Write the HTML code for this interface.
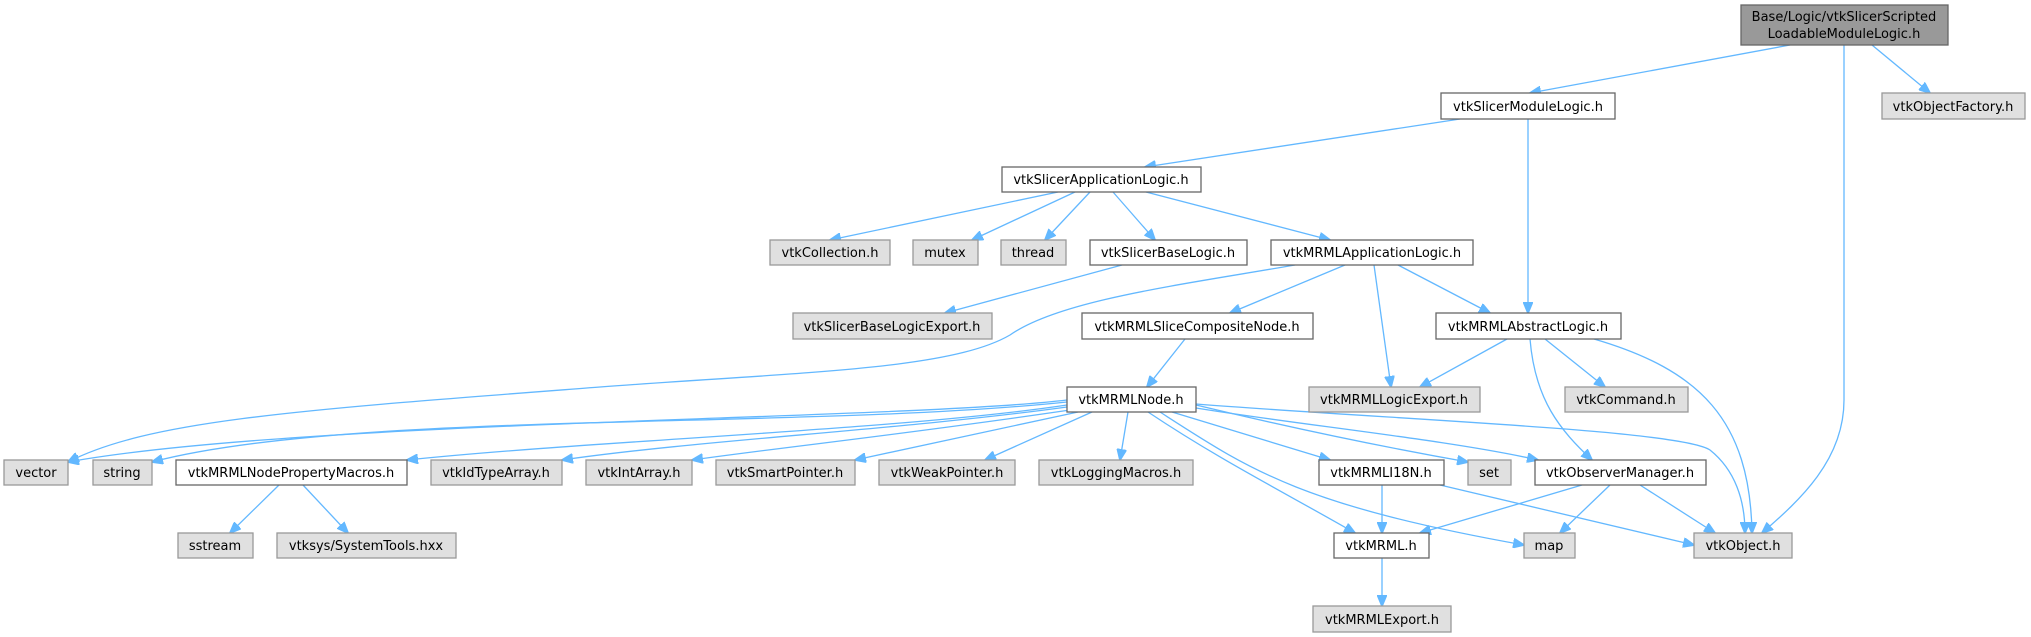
<!DOCTYPE html>
<html><head><meta charset="utf-8"><style>
html,body{margin:0;padding:0;background:#fff;}
svg{display:block;}
text{font-family:"DejaVu Sans","Liberation Sans",sans-serif;font-size:13px;fill:#000;}
.w{fill:#fff;stroke:#666;stroke-width:1.3;}
.g{fill:#e0e0e0;stroke:#999;stroke-width:1.3;}
.r{fill:#999;stroke:#666;stroke-width:1.3;}
.e{fill:none;stroke:#63b8ff;stroke-width:1.3;}
</style></head><body>
<svg width="2031" height="637" viewBox="0 0 2031 637" xmlns="http://www.w3.org/2000/svg">
<defs><marker id="a" markerWidth="12" markerHeight="10" refX="11" refY="5" orient="auto" markerUnits="userSpaceOnUse"><path d="M0,0 L12,5 L0,10 z" fill="#63b8ff" stroke="#63b8ff"/></marker></defs>
<g marker-end="url(#a)">
<path class="e" d="M1790,45 L1530,93"/>
<path class="e" d="M1844,45 L1844,400 C1844,460 1800,500 1762,533"/>
<path class="e" d="M1872,45 L1930,93"/>
<path class="e" d="M1460,119 L1145,167"/>
<path class="e" d="M1528,119 L1528,313"/>
<path class="e" d="M1058,192 L830,240"/>
<path class="e" d="M1075,192 L972,240"/>
<path class="e" d="M1090,192 L1045,240"/>
<path class="e" d="M1113,192 L1155,240"/>
<path class="e" d="M1146,192 L1330,240"/>
<path class="e" d="M1122,265 L945,313"/>
<path class="e" d="M1295,265 C1180,285 1060,300 1010,335 C950,370 800,372 600,387 C300,410 150,420 68,462"/>
<path class="e" d="M1345,265 L1230,313"/>
<path class="e" d="M1374,265 L1391,387"/>
<path class="e" d="M1398,265 L1490,313"/>
<path class="e" d="M1185,339 L1147,387"/>
<path class="e" d="M1507,339 L1420,387"/>
<path class="e" d="M1545,339 L1605,387"/>
<path class="e" d="M1530,339 C1535,400 1560,430 1592,460"/>
<path class="e" d="M1594,339 C1700,370 1750,420 1752,533"/>
<path class="e" d="M1067,400 C900,420 300,420 68,462"/>
<path class="e" d="M1067,402 C800,430 350,410 152,462"/>
<path class="e" d="M1067,405 C900,430 600,440 407,460"/>
<path class="e" d="M1067,407 C900,430 700,440 562,460"/>
<path class="e" d="M1070,410 C900,435 800,445 692,460"/>
<path class="e" d="M1078,412 L855,460"/>
<path class="e" d="M1092,412 L985,460"/>
<path class="e" d="M1128,412 L1120,460"/>
<path class="e" d="M1172,412 L1330,460"/>
<path class="e" d="M1196,405 C1300,430 1400,450 1468,462"/>
<path class="e" d="M1196,408 C1300,425 1450,440 1538,460"/>
<path class="e" d="M1196,404 C1400,420 1680,430 1710,450 C1735,470 1745,500 1745,533"/>
<path class="e" d="M1148,412 C1220,460 1280,490 1355,533"/>
<path class="e" d="M1160,412 C1250,470 1300,505 1524,545"/>
<path class="e" d="M279,485 L230,533"/>
<path class="e" d="M303,485 L348,533"/>
<path class="e" d="M1382,485 L1382,533"/>
<path class="e" d="M1440,485 L1694,545"/>
<path class="e" d="M1582,485 L1420,533"/>
<path class="e" d="M1610,485 L1560,533"/>
<path class="e" d="M1640,485 L1715,533"/>
<path class="e" d="M1382,558 L1382,606"/>
</g>
<rect class="r" x="1741" y="5" width="207" height="40"/>
<text x="1844" y="21" text-anchor="middle">Base/Logic/vtkSlicerScripted</text>
<text x="1844" y="38" text-anchor="middle">LoadableModuleLogic.h</text>
<g text-anchor="middle">
<rect class="w" x="1441" y="93" width="174" height="26"/><text x="1528" y="111">vtkSlicerModuleLogic.h</text>
<rect class="g" x="1882" y="93" width="143" height="26"/><text x="1953" y="111">vtkObjectFactory.h</text>
<rect class="w" x="1002" y="167" width="199" height="25"/><text x="1101" y="184">vtkSlicerApplicationLogic.h</text>
<rect class="g" x="770" y="240" width="120" height="25"/><text x="830" y="257">vtkCollection.h</text>
<rect class="g" x="913" y="240" width="65" height="25"/><text x="945" y="257">mutex</text>
<rect class="g" x="1001" y="240" width="65" height="25"/><text x="1033" y="257">thread</text>
<rect class="w" x="1090" y="240" width="157" height="25"/><text x="1168" y="257">vtkSlicerBaseLogic.h</text>
<rect class="w" x="1271" y="240" width="202" height="25"/><text x="1372" y="257">vtkMRMLApplicationLogic.h</text>
<rect class="g" x="793" y="313" width="199" height="26"/><text x="892" y="331">vtkSlicerBaseLogicExport.h</text>
<rect class="w" x="1082" y="313" width="231" height="26"/><text x="1197" y="331">vtkMRMLSliceCompositeNode.h</text>
<rect class="w" x="1436" y="313" width="185" height="26"/><text x="1528" y="331">vtkMRMLAbstractLogic.h</text>
<rect class="w" x="1067" y="387" width="129" height="25"/><text x="1131" y="404">vtkMRMLNode.h</text>
<rect class="g" x="1309" y="387" width="171" height="25"/><text x="1394" y="404">vtkMRMLLogicExport.h</text>
<rect class="g" x="1565" y="387" width="123" height="25"/><text x="1626" y="404">vtkCommand.h</text>
<rect class="g" x="4" y="460" width="64" height="25"/><text x="36" y="477">vector</text>
<rect class="g" x="93" y="460" width="59" height="25"/><text x="122" y="477">string</text>
<rect class="w" x="176" y="460" width="231" height="25"/><text x="291" y="477">vtkMRMLNodePropertyMacros.h</text>
<rect class="g" x="431" y="460" width="131" height="25"/><text x="496" y="477">vtkIdTypeArray.h</text>
<rect class="g" x="586" y="460" width="106" height="25"/><text x="639" y="477">vtkIntArray.h</text>
<rect class="g" x="716" y="460" width="139" height="25"/><text x="785" y="477">vtkSmartPointer.h</text>
<rect class="g" x="879" y="460" width="136" height="25"/><text x="947" y="477">vtkWeakPointer.h</text>
<rect class="g" x="1039" y="460" width="154" height="25"/><text x="1116" y="477">vtkLoggingMacros.h</text>
<rect class="w" x="1319" y="460" width="125" height="25"/><text x="1381" y="477">vtkMRMLI18N.h</text>
<rect class="g" x="1468" y="460" width="43" height="25"/><text x="1489" y="477">set</text>
<rect class="w" x="1535" y="460" width="171" height="25"/><text x="1620" y="477">vtkObserverManager.h</text>
<rect class="g" x="178" y="533" width="75" height="25"/><text x="215" y="550">sstream</text>
<rect class="g" x="277" y="533" width="179" height="25"/><text x="366" y="550">vtksys/SystemTools.hxx</text>
<rect class="w" x="1334" y="533" width="95" height="25"/><text x="1381" y="550">vtkMRML.h</text>
<rect class="g" x="1524" y="533" width="51" height="25"/><text x="1549" y="550">map</text>
<rect class="g" x="1694" y="533" width="98" height="25"/><text x="1743" y="550">vtkObject.h</text>
<rect class="g" x="1313" y="606" width="138" height="26"/><text x="1382" y="624">vtkMRMLExport.h</text>
</g>
</svg>
</body></html>
